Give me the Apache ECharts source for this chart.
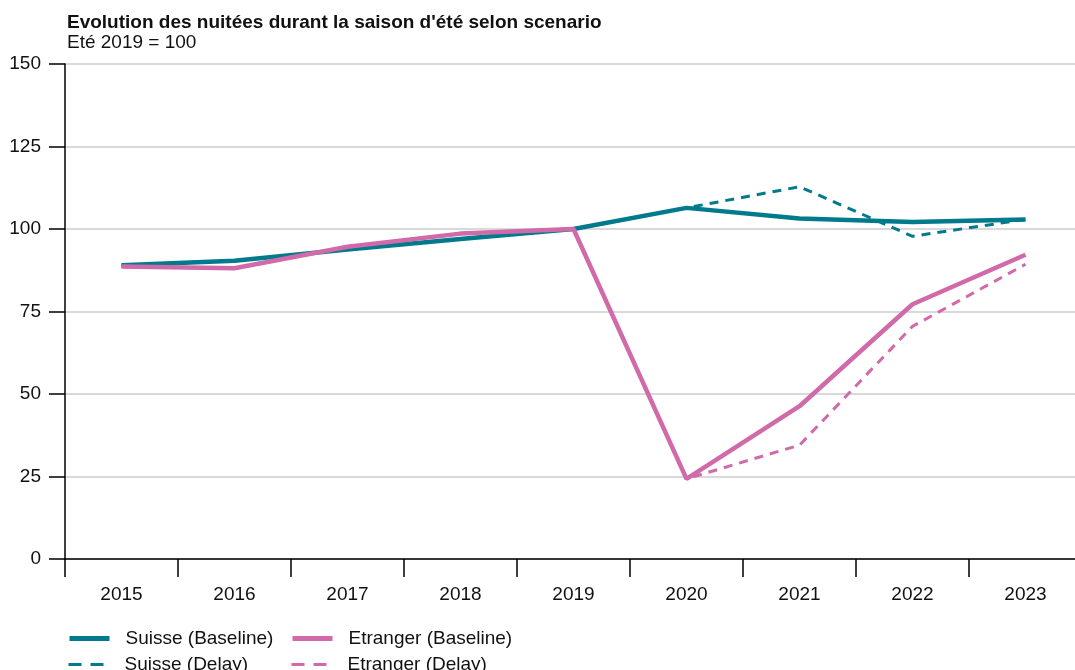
<!DOCTYPE html>
<html><head><meta charset="utf-8">
<script src="https://cdn.jsdelivr.net/npm/echarts@6/dist/echarts.min.js"></script>
<style>html,body{margin:0;padding:0;background:#fff}#c{width:1075px;height:670px}</style>
</head><body><div id="c"></div>
<script>
const years = ['2015','2016','2017','2018','2019','2020','2021','2022','2023'];
const suisseBaseline = [89, 90.4, 93.8, 97, 100, 106.4, 103.2, 102.1, 102.9];
const suisseDelay    = [89, 90.4, 93.8, 97, 100, 106.4, 112.8, 97.8, 102.9];
const etrangerBaseline = [88.6, 88.1, 94.6, 98.6, 100, 24.3, 46.3, 77.2, 92.2];
const etrangerDelay    = [88.6, 88.1, 94.6, 98.6, 100, 24.3, 34.5, 70.5, 89.3];
const yTicks = {min: 0, max: 150, interval: 25};

const TEAL = '#007A8C', PINK = '#D06AA8';
const font = 'Liberation Sans, Arial, sans-serif';
const chart = echarts.init(document.getElementById('c'));
const legendBase = {orient:'horizontal', itemWidth:40, itemHeight:14, itemGap:0, padding:5,
  itemStyle:{opacity:0},
  textStyle:{fontFamily:font, fontSize:19, color:'#111', padding:[0,0,0,11]}, selectedMode:false};
function lg(left, top, name, width, type) {
  return Object.assign({}, legendBase, {left:left, top:top, data:[name], lineStyle:{width:width, type:type}});
}
chart.setOption({
  animation:false,
  title:{text:"Evolution des nuitées durant la saison d'été selon scenario", subtext:'Eté 2019 = 100',
    left:62, top:8, itemGap:1,
    textStyle:{fontFamily:font, fontSize:19, fontWeight:'bold', color:'#111'},
    subtextStyle:{fontFamily:font, fontSize:19, color:'#111'}},
  legend:[
    lg(62, 624, 'Suisse (Baseline)', 5, 'solid'),
    lg(285, 624, 'Etranger (Baseline)', 5, 'solid'),
    lg(62, 650, 'Suisse (Delay)', 3, [13,9]),
    lg(285, 650, 'Etranger (Delay)', 3, [13,9])
  ],
  grid:{left:65, top:64, width:1017, height:495, outerBoundsMode:'none', containLabel:false},
  xAxis:{type:'category', data:years, boundaryGap:true,
    axisLine:{lineStyle:{color:'#000', width:1.5}},
    axisTick:{show:true, length:18, lineStyle:{color:'#000', width:1.5}, alignWithLabel:false},
    axisLabel:{fontFamily:font, fontSize:19, color:'#111', margin:26, interval:0},
    splitLine:{show:false}},
  yAxis:{type:'value', min:yTicks.min, max:yTicks.max, interval:yTicks.interval,
    axisLine:{show:true, lineStyle:{color:'#000', width:1.5}},
    axisTick:{show:true, length:16, lineStyle:{color:'#000', width:1.5}},
    axisLabel:{fontFamily:font, fontSize:19, color:'#111', margin:24},
    splitLine:{lineStyle:{color:'#cccccc', width:1.5}}},
  series:[
    {name:'Suisse (Delay)', type:'line', data:suisseDelay, symbol:'none', z:2,
      lineStyle:{color:TEAL, width:3, type:[9,7]}, itemStyle:{color:TEAL}},
    {name:'Etranger (Delay)', type:'line', data:etrangerDelay, symbol:'none', z:2,
      lineStyle:{color:PINK, width:3, type:[9,7]}, itemStyle:{color:PINK}},
    {name:'Suisse (Baseline)', type:'line', data:suisseBaseline, symbol:'none', z:3,
      lineStyle:{color:TEAL, width:4.5}, itemStyle:{color:TEAL}},
    {name:'Etranger (Baseline)', type:'line', data:etrangerBaseline, symbol:'none', z:4,
      lineStyle:{color:PINK, width:4.5}, itemStyle:{color:PINK}}
  ]
});
</script></body></html>
